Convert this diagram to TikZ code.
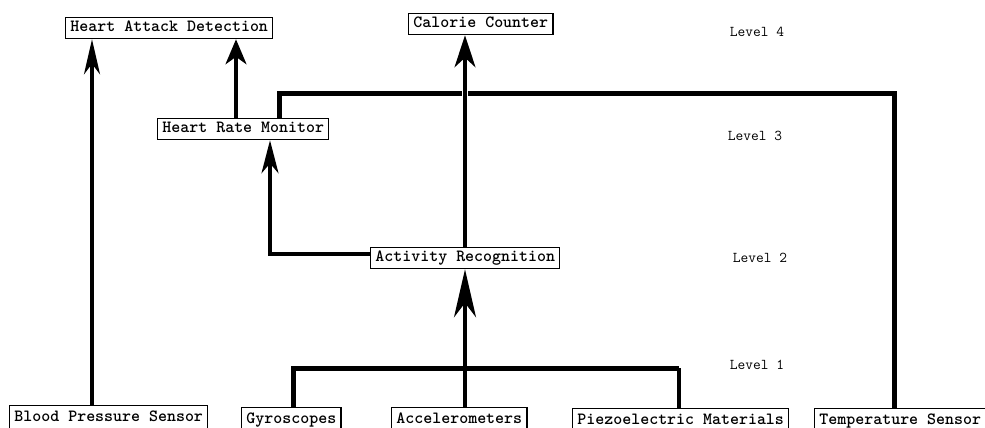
\documentclass[tikz,border=0pt]{standalone}
\usetikzlibrary{arrows.meta}
\tikzset{
  boxlbl/.style={draw, line width=1.3pt, fill=white, inner xsep=4.8pt, inner ysep=0pt,
    minimum height=21pt, text height=11pt, text depth=3.5pt,
    font=\ttfamily\bfseries\fontsize{17.1}{20}\selectfont, anchor=north west},
  sensorlbl/.style={boxlbl, minimum height=25pt},
  levellbl/.style={font=\ttfamily\fontsize{15}{18}\selectfont},
  wire/.style={line width=3.2pt},
  buswire/.style={line width=5pt, line join=miter},
  upto/.style n args={2}{wire, -{Stealth[length=#1, width=#2, inset=0.3*#1]}},
}
\begin{document}
\begin{tikzpicture}[x=1pt, y=-1pt]
\useasboundingbox (0,0) rectangle (985,428);

% level 4
\node[boxlbl] (had) at (65,17) {Heart Attack Detection};
\node[boxlbl] (cc)  at (408,13) {Calorie Counter};
% level 3
\node[boxlbl] (hrm) at (157,118) {Heart Rate Monitor};
% level 2
\node[boxlbl] (ar)  at (370,247) {Activity Recognition};
% level 1 sensors
\node[sensorlbl] (bp)    at (9,405)   {Blood Pressure Sensor};
\node[sensorlbl] (gyro)  at (241,407) {Gyroscopes};
\node[sensorlbl] (acc)   at (391,407) {Accelerometers};
\node[sensorlbl] (piezo) at (572,408) {Piezoelectric Materials};
\node[sensorlbl] (temp)  at (814,408) {Temperature Sensor};

% level captions
\node[levellbl] (l4) at (757,32)  {Level 4};
\node[levellbl] (l3) at (755,136) {Level 3};
\node[levellbl] (l2) at (760,258) {Level 2};
\node[levellbl] (l1) at (757,365) {Level 1};

% helper coordinates for the wire routes
\coordinate (xbp)  at (92,0);
\coordinate (xhrm) at (236,0);
\coordinate (xacc) at (465,0);
\coordinate (bend) at (270,254);
\coordinate (tr)   at (894,93);
\coordinate (tl)   at (279,93);
\coordinate (busl) at (293,368);
\coordinate (busr) at (679,368);

% temperature feed into the heart rate monitor
\draw[buswire] (temp.north -| tr) -- (tr) -- (tl) -- (hrm.north -| tl);

% sensor bus into activity recognition
\draw[buswire] (gyro.north -| busl) -- (busl) -- (busr);
\draw[line width=3.6pt] (busr) -- (piezo.north -| busr);
\draw[upto={48pt}{22pt}] (acc.north -| xacc) -- (ar.south -| xacc);

% activity recognition outputs
\draw[white, line width=6pt] (tl -| xacc) ++(0,-3.5) -- ++(0,7);
\draw[upto={32pt}{21pt}] (ar.north -| xacc) -- (cc.south -| xacc);
\draw[upto={33pt}{17pt}] (ar.west |- bend) -- (bend) -- (hrm.south -| bend);

% inputs to heart attack detection
\draw[upto={35pt}{16pt}] (bp.north -| xbp) -- (had.south -| xbp);
\draw[upto={25pt}{21pt}] (hrm.north -| xhrm) -- (had.south -| xhrm);
\end{tikzpicture}
\end{document}
